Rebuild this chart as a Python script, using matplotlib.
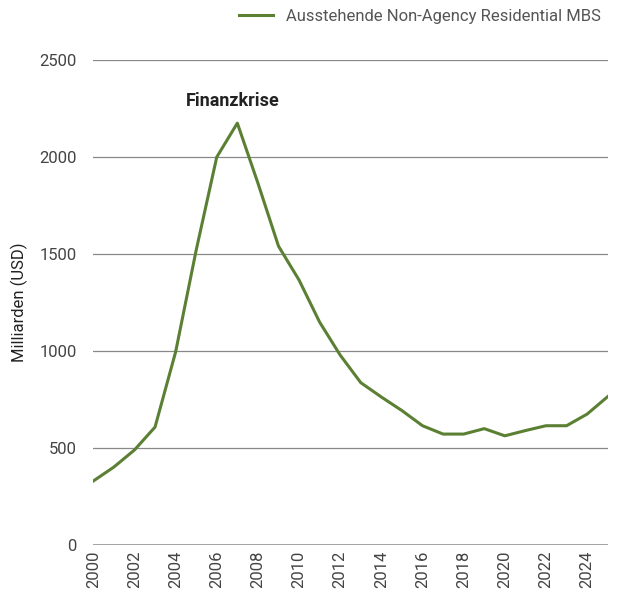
import matplotlib
matplotlib.use("Agg")
from matplotlib import pyplot as plt

# Daten
jahre = list(range(2000, 2026))
werte = [330, 402, 490, 608, 995, 1520, 2000, 2175, 1866, 1541, 1366, 1149,
         979, 837, 763, 693, 615, 572, 572, 600, 563, 590, 615, 615, 675, 765]
tick_jahre = list(range(2000, 2025, 2))
y_ticks = [0, 500, 1000, 1500, 2000, 2500]

gruen = "#5b8034"
grau_text = "#555555"

plt.rcParams['font.family'] = ['Roboto', 'DejaVu Sans']

fig = plt.figure(figsize=(6.22, 5.95), dpi=100)
ax = fig.add_axes([0.150, 0.084, 0.827, 0.815])

ax.plot(jahre, werte, color=gruen, linewidth=2.2,
        label="Ausstehende Non-Agency Residential MBS")

ax.set_xlim(2000, 2025)
ax.set_ylim(0, 2500)
ax.set_yticks(y_ticks)
ax.set_xticks(tick_jahre)
ax.set_xticklabels([str(j) for j in tick_jahre], rotation=90)
ax.tick_params(axis='both', length=0, labelsize=12, labelcolor="#444444")
ax.tick_params(axis='y', pad=12)
ax.tick_params(axis='x', pad=4)

# Gitterlinien
for y in y_ticks[1:]:
    ax.axhline(y, color="#888888", linewidth=0.9, zorder=0)
ax.axhline(0, color="#888888", linewidth=1.8, zorder=0)

for s in ax.spines.values():
    s.set_visible(False)

ax.set_ylabel("Milliarden (USD)", fontsize=12, color="#222222", labelpad=8)

ax.text(2006.8, 2290, "Finanzkrise", fontsize=13, fontweight="bold",
        ha="center", va="center", color="#222222")

leg = ax.legend(loc="lower right", bbox_to_anchor=(1.0, 1.06), frameon=False,
                fontsize=12, handlelength=2.0, borderaxespad=0)
for t in leg.get_texts():
    t.set_color(grau_text)

fig.savefig("out.png", dpi=100)
